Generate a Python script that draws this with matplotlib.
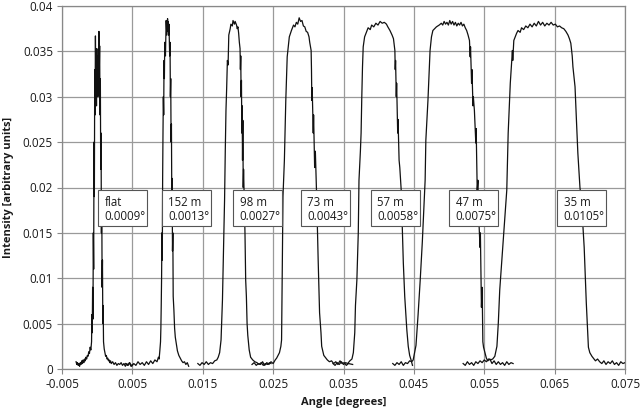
import matplotlib
matplotlib.use('Agg')
import matplotlib.pyplot as plt
from matplotlib.patches import Rectangle

plt.rcParams['font.family'] = ['Open Sans', 'DejaVu Sans']

# ---------------- data ----------------
xticks = [-0.005, 0.005, 0.015, 0.025, 0.035, 0.045, 0.055, 0.065, 0.075]
xtick_labels = ['-0.005', '0.005', '0.015', '0.025', '0.035', '0.045', '0.055', '0.065', '0.075']
yticks = [0, 0.005, 0.01, 0.015, 0.02, 0.025, 0.03, 0.035, 0.04]
ytick_labels = ['0', '0.005', '0.01', '0.015', '0.02', '0.025', '0.03', '0.035', '0.04']

label_names = ['flat', '152 m', '98 m', '73 m', '57 m', '47 m', '35 m']
label_angles = ['0.0009°', '0.0013°', '0.0027°', '0.0043°', '0.0058°', '0.0075°', '0.0105°']

flat_x = [-0.0030, -0.0029, -0.0028, -0.0027, -0.0026, -0.0025, -0.0024, -0.0023, -0.0022, -0.0021,
          -0.0020, -0.0019, -0.0018, -0.0017, -0.0016, -0.0015, -0.0014, -0.0013, -0.0012, -0.0011,
          -0.0010, -0.0009, -0.0008, -0.00075, -0.0007, -0.00065, -0.0006, -0.00055, -0.0005, -0.00045,
          -0.0004, -0.00035, -0.0003, -0.00025, -0.0002, -0.00015, -0.0001, -0.00005, 0.0, 0.00005,
          0.0001, 0.00015, 0.0002, 0.00025, 0.0003, 0.00035, 0.0004, 0.00045, 0.0005, 0.00055,
          0.0006, 0.00065, 0.0007, 0.00075, 0.0008, 0.00085, 0.0009, 0.0010, 0.0011, 0.0012,
          0.0013, 0.0014, 0.0015, 0.0016, 0.0017, 0.0018, 0.0019, 0.0020, 0.0022, 0.0024,
          0.0026, 0.0028, 0.0030, 0.0032, 0.0034, 0.0036, 0.0038, 0.0040, 0.0042, 0.0044,
          0.0046, 0.0048, 0.0050]
flat_y = [0.0008, 0.0005, 0.0007, 0.0004, 0.0006, 0.0003, 0.0007, 0.0005, 0.0009, 0.0006,
          0.0010, 0.0007, 0.0011, 0.0009, 0.0013, 0.0011, 0.0015, 0.0014, 0.0019, 0.0017,
          0.0024, 0.0021, 0.0030, 0.0060, 0.0040, 0.0090, 0.0055, 0.0150, 0.0110, 0.0250,
          0.0190, 0.0330, 0.0280, 0.0367, 0.0320, 0.0350, 0.0290, 0.0353, 0.0310, 0.0345,
          0.0300, 0.0340, 0.0320, 0.0372, 0.0330, 0.0356, 0.0280, 0.0320, 0.0220, 0.0260,
          0.0150, 0.0190, 0.0090, 0.0120, 0.0050, 0.0070, 0.0030, 0.0022, 0.0018, 0.0014,
          0.0015, 0.0011, 0.0012, 0.0009, 0.0010, 0.0007, 0.0009, 0.0006, 0.0008, 0.0005,
          0.0007, 0.0004, 0.0006, 0.0005, 0.0007, 0.0004, 0.0006, 0.0003, 0.0006, 0.0004,
          0.0007, 0.0003, 0.0005]

m152_x = [0.0040, 0.0043, 0.0046, 0.0049, 0.0052, 0.0055, 0.0058, 0.0061, 0.0064, 0.0067,
          0.0070, 0.0073, 0.0076, 0.0079, 0.0082, 0.0085, 0.0087, 0.0088, 0.0089, 0.0090,
          0.00905, 0.0091, 0.00915, 0.0092, 0.00925, 0.0093, 0.00935, 0.0094, 0.00945, 0.0095,
          0.00955, 0.0096, 0.0097, 0.0098, 0.0099, 0.0100, 0.01005, 0.0101, 0.01015, 0.0102,
          0.0103, 0.01035, 0.0104, 0.01045, 0.0105, 0.01055, 0.0106, 0.01065, 0.0107, 0.01075,
          0.0108, 0.0109, 0.0110, 0.0111, 0.0112, 0.0114, 0.0116, 0.0118, 0.0120, 0.0122,
          0.0124, 0.0126, 0.0128, 0.0130]
m152_y = [0.0006, 0.0004, 0.0007, 0.0003, 0.0006, 0.0004, 0.0008, 0.0005, 0.0007, 0.0004,
          0.0008, 0.0005, 0.0009, 0.0006, 0.0010, 0.0008, 0.0013, 0.0011, 0.0020, 0.0030,
          0.0045, 0.0070, 0.0100, 0.0150, 0.0120, 0.0210, 0.0260, 0.0300, 0.0280, 0.0340,
          0.0320, 0.0360, 0.0345, 0.0384, 0.0368, 0.0386, 0.0372, 0.0383, 0.0368, 0.0380,
          0.0345, 0.0360, 0.0300, 0.0320, 0.0250, 0.0270, 0.0190, 0.0210, 0.0130, 0.0150,
          0.0080, 0.0065, 0.0045, 0.0035, 0.0030, 0.0020, 0.0015, 0.0012, 0.0009, 0.0007,
          0.0008, 0.0005, 0.0007, 0.0003]

m98_x = [0.0143, 0.0146, 0.0149, 0.0152, 0.0155, 0.0158, 0.0161, 0.0164, 0.0167, 0.0170,
         0.0172, 0.0174, 0.0176, 0.0178, 0.0180, 0.0181, 0.0182, 0.0183, 0.0184, 0.0185,
         0.0186, 0.0187, 0.0189, 0.0190, 0.0192, 0.0193, 0.0195, 0.0196, 0.0198, 0.0199,
         0.0200, 0.0201, 0.0202, 0.0203, 0.02035, 0.0204, 0.02045, 0.0205, 0.02055, 0.0206,
         0.02065, 0.0207, 0.02075, 0.0208, 0.0209, 0.0210, 0.0211, 0.0212, 0.0213, 0.0214,
         0.0216, 0.0218, 0.0221, 0.0224, 0.0227, 0.0230, 0.0233, 0.0236, 0.0239, 0.0242,
         0.0245, 0.0247]
m98_y = [0.0006, 0.0004, 0.0007, 0.0005, 0.0008, 0.0005, 0.0007, 0.0006, 0.0009, 0.0010,
         0.0013, 0.0018, 0.0032, 0.0076, 0.0150, 0.0186, 0.0240, 0.0285, 0.0310, 0.0340,
         0.0335, 0.0368, 0.0375, 0.0380, 0.0378, 0.0384, 0.0380, 0.0383, 0.0379, 0.0375,
         0.0377, 0.0370, 0.0360, 0.0353, 0.0330, 0.0345, 0.0300, 0.0318, 0.0260, 0.0290,
         0.0230, 0.0274, 0.0200, 0.0220, 0.0186, 0.0150, 0.0098, 0.0080, 0.0050, 0.0037,
         0.0021, 0.0013, 0.0010, 0.0008, 0.0007, 0.0005, 0.0007, 0.0004, 0.0006, 0.0005,
         0.0007, 0.0006]

m73_x = [0.0220, 0.0223, 0.0226, 0.0229, 0.0232, 0.0235, 0.0238, 0.0241, 0.0244, 0.0247,
         0.0250, 0.0253, 0.0255, 0.0257, 0.0259, 0.0261, 0.0262, 0.0263, 0.0264, 0.0266,
         0.0268, 0.0270, 0.0273, 0.0276, 0.0279, 0.0281, 0.0283, 0.0285, 0.0287, 0.0289,
         0.0291, 0.0293, 0.0295, 0.0297, 0.0299, 0.0301, 0.0302, 0.0304, 0.03045, 0.0305,
         0.03055, 0.0307, 0.03075, 0.0309, 0.0310, 0.0312, 0.0314, 0.0316, 0.0318, 0.0319,
         0.0322, 0.0324, 0.0327, 0.0330, 0.0333, 0.0336, 0.0339, 0.0342, 0.0345, 0.0348,
         0.0351, 0.0354, 0.0357, 0.0363]
m73_y = [0.0005, 0.0007, 0.0004, 0.0006, 0.0005, 0.0008, 0.0004, 0.0007, 0.0005, 0.0008,
         0.0006, 0.0010, 0.0012, 0.0015, 0.0018, 0.0025, 0.0032, 0.0110, 0.0190, 0.0230,
         0.0296, 0.0344, 0.0366, 0.0373, 0.0379, 0.0377, 0.0382, 0.0380, 0.0387, 0.0383,
         0.0384, 0.0378, 0.0377, 0.0372, 0.0371, 0.0366, 0.0360, 0.0351, 0.0330, 0.0296,
         0.0310, 0.0260, 0.0280, 0.0222, 0.0240, 0.0186, 0.0120, 0.0062, 0.0040, 0.0025,
         0.0015, 0.0013, 0.0010, 0.0008, 0.0009, 0.0006, 0.0008, 0.0005, 0.0009, 0.0006,
         0.0007, 0.0004, 0.0006, 0.0005]

m57_x = [0.0335, 0.0338, 0.0341, 0.0344, 0.0347, 0.0350, 0.0353, 0.0356, 0.0359, 0.0362,
         0.0364, 0.0366, 0.0367, 0.0369, 0.0371, 0.0372, 0.0374, 0.0375, 0.0376, 0.0377,
         0.0378, 0.0380, 0.0383, 0.0385, 0.0388, 0.0390, 0.0393, 0.0396, 0.0399, 0.0402,
         0.0405, 0.0408, 0.0411, 0.0413, 0.0416, 0.0419, 0.0421, 0.0423, 0.04235, 0.0424,
         0.0425, 0.04255, 0.0427, 0.04275, 0.0429, 0.0430, 0.0432, 0.0435, 0.0437, 0.0440,
         0.0442, 0.0444, 0.0446, 0.0448]
m57_y = [0.0006, 0.0004, 0.0007, 0.0005, 0.0008, 0.0005, 0.0007, 0.0006, 0.0009, 0.0011,
         0.0018, 0.0040, 0.0070, 0.0098, 0.0150, 0.0208, 0.0240, 0.0260, 0.0300, 0.0333,
         0.0355, 0.0366, 0.0372, 0.0376, 0.0374, 0.0379, 0.0377, 0.0381, 0.0379, 0.0383,
         0.0381, 0.0382, 0.0380, 0.0377, 0.0373, 0.0368, 0.0364, 0.0351, 0.0330, 0.0340,
         0.0300, 0.0315, 0.0260, 0.0275, 0.0230, 0.0222, 0.0197, 0.0117, 0.0080, 0.0043,
         0.0025, 0.0015, 0.0010, 0.0004]

m47_x = [0.0420, 0.0423, 0.0426, 0.0429, 0.0432, 0.0435, 0.0438, 0.0441, 0.0444, 0.0447,
         0.0449, 0.0451, 0.0453, 0.0456, 0.0459, 0.0462, 0.0466, 0.0467, 0.0470, 0.0473,
         0.0475, 0.0477, 0.0482, 0.0486, 0.0489, 0.0491, 0.0493, 0.0495, 0.0497, 0.0499,
         0.0501, 0.0503, 0.0505, 0.0507, 0.0509, 0.0511, 0.0513, 0.0515, 0.0517, 0.0519,
         0.0521, 0.0523, 0.0525, 0.0527, 0.0529, 0.0530, 0.05305, 0.0532, 0.05325, 0.0534,
         0.05345, 0.0536, 0.0538, 0.05385, 0.0540, 0.0541, 0.0542, 0.0544, 0.05445, 0.0546,
         0.0547, 0.0548, 0.0549, 0.0551, 0.0553, 0.0555, 0.0558, 0.0561, 0.0564, 0.0567,
         0.0570, 0.0573, 0.0576, 0.0579, 0.0582, 0.0585, 0.0588, 0.0591]
m47_y = [0.0006, 0.0004, 0.0007, 0.0005, 0.0008, 0.0004, 0.0007, 0.0006, 0.0009, 0.0008,
         0.0010, 0.0018, 0.0026, 0.0060, 0.0098, 0.0140, 0.0208, 0.0252, 0.0296, 0.0351,
         0.0366, 0.0373, 0.0377, 0.0379, 0.0381, 0.0379, 0.0383, 0.0380, 0.0382, 0.0379,
         0.0384, 0.0380, 0.0383, 0.0379, 0.0382, 0.0378, 0.0381, 0.0379, 0.0382, 0.0378,
         0.0380, 0.0376, 0.0373, 0.0368, 0.0362, 0.0344, 0.0355, 0.0315, 0.0330, 0.0290,
         0.0300, 0.0285, 0.0249, 0.0265, 0.0197, 0.0208, 0.0170, 0.0134, 0.0150, 0.0068,
         0.0090, 0.0030, 0.0024, 0.0018, 0.0012, 0.0009, 0.0011, 0.0006, 0.0009, 0.0005,
         0.0008, 0.0005, 0.0007, 0.0004, 0.0008, 0.0005, 0.0007, 0.0006]

m35_x = [0.0520, 0.0523, 0.0526, 0.0529, 0.0532, 0.0535, 0.0538, 0.0541, 0.0544, 0.0547,
         0.0550, 0.0553, 0.0556, 0.0559, 0.0562, 0.0565, 0.0568, 0.0570, 0.0572, 0.0577,
         0.0582, 0.0584, 0.0587, 0.0590, 0.05905, 0.0592, 0.0594, 0.0596, 0.0598, 0.0601,
         0.0603, 0.0606, 0.0609, 0.0612, 0.0615, 0.0618, 0.0621, 0.0624, 0.0627, 0.0630,
         0.0633, 0.0636, 0.0639, 0.0642, 0.0645, 0.0648, 0.0651, 0.0654, 0.0657, 0.0660,
         0.0663, 0.0666, 0.0669, 0.0671, 0.0673, 0.0675, 0.0676, 0.0679, 0.0681, 0.0683,
         0.0686, 0.0688, 0.0692, 0.0695, 0.0698, 0.0700, 0.0703, 0.0705, 0.0708, 0.0711,
         0.0714, 0.0717, 0.0720, 0.0723, 0.0726, 0.0729, 0.0732, 0.0735, 0.0738, 0.0741,
         0.0744, 0.0747, 0.0750]
m35_y = [0.0006, 0.0004, 0.0008, 0.0005, 0.0007, 0.0004, 0.0008, 0.0006, 0.0009, 0.0007,
         0.0010, 0.0008, 0.0011, 0.0010, 0.0011, 0.0014, 0.0025, 0.0051, 0.0087, 0.0142,
         0.0197, 0.0260, 0.0315, 0.0351, 0.0340, 0.0362, 0.0366, 0.0370, 0.0373, 0.0371,
         0.0376, 0.0374, 0.0378, 0.0376, 0.0380, 0.0377, 0.0381, 0.0378, 0.0383, 0.0379,
         0.0382, 0.0378, 0.0381, 0.0379, 0.0382, 0.0379, 0.0380, 0.0377, 0.0378, 0.0376,
         0.0375, 0.0372, 0.0368, 0.0364, 0.0359, 0.0345, 0.0333, 0.0311, 0.0274, 0.0238,
         0.0200, 0.0186, 0.0134, 0.0073, 0.0024, 0.0018, 0.0014, 0.0012, 0.0009, 0.0011,
         0.0008, 0.0006, 0.0009, 0.0005, 0.0008, 0.0006, 0.0009, 0.0005, 0.0007, 0.0004,
         0.0008, 0.0006, 0.0007]

series = [(flat_x, flat_y), (m152_x, m152_y), (m98_x, m98_y), (m73_x, m73_y),
          (m57_x, m57_y), (m47_x, m47_y), (m35_x, m35_y)]

# ---------------- layout ----------------
box_left = [0.00016, 0.00916, 0.01933, 0.02895, 0.03885, 0.05002, 0.06536]
box_w = 0.00696
box_bottom = 0.01575
box_h = 0.00396
text_dx = 0.00092
line1_y = 0.01831
line2_y = 0.01677

fig = plt.figure(figsize=(6.4, 4.12), dpi=100)
ax = fig.add_axes([62 / 640, 43 / 412, 563 / 640, 363 / 412])

for xs, ys in series:
    ax.plot(xs, ys, color='#111111', lw=0.9, zorder=3)

for bl, n, a in zip(box_left, label_names, label_angles):
    ax.add_patch(Rectangle((bl, box_bottom), box_w, box_h, facecolor='white',
                           edgecolor='#555555', lw=0.8, zorder=5))
    ax.text(bl + text_dx, line1_y, n, fontsize=8.3, va='center', ha='left', zorder=6, color='#1a1a1a')
    ax.text(bl + text_dx, line2_y, a, fontsize=8.3, va='center', ha='left', zorder=6, color='#1a1a1a')

ax.set_xlim(-0.005, 0.075)
ax.set_ylim(0, 0.04)
ax.set_xticks(xticks)
ax.set_xticklabels(xtick_labels)
ax.set_yticks(yticks)
ax.set_yticklabels(ytick_labels)
ax.tick_params(axis='both', labelsize=8.5, labelcolor='#1a1a1a', length=3.5, width=0.8,
               direction='out', pad=3, color='#888888')
ax.grid(True, color='#9a9a9a', lw=0.9)
ax.set_axisbelow(True)
for s in ax.spines.values():
    s.set_color('#888888')
    s.set_linewidth(0.9)

ax.set_xlabel('Angle [degrees]', fontsize=8, fontweight='bold', labelpad=4, color='#1a1a1a')
ax.set_ylabel('Intensity [arbitrary units]', fontsize=8, fontweight='bold', labelpad=6, color='#1a1a1a')

fig.savefig('out.png', dpi=100)
